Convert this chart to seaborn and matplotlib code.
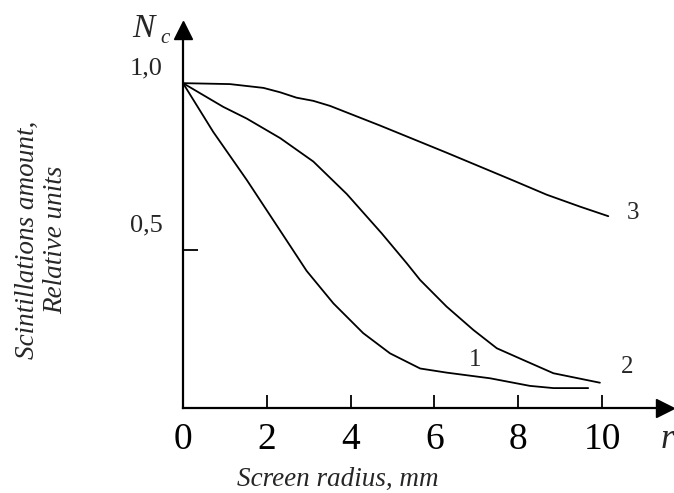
import matplotlib
matplotlib.use("Agg")
import matplotlib.pyplot as plt
import seaborn as sns
import pandas as pd

# ---- data ----
r1 = [0.0, 0.72, 1.52, 2.36, 2.95, 3.59, 4.30, 4.94, 5.66, 6.29, 7.33, 8.28, 8.84, 9.67]
n1 = [1.028, 0.874, 0.722, 0.553, 0.434, 0.331, 0.237, 0.173, 0.125, 0.112, 0.094, 0.070, 0.063, 0.063]

r2 = [0.0, 0.96, 1.52, 2.32, 3.11, 3.91, 4.74, 5.34, 5.66, 6.29, 6.93, 7.49, 8.12, 8.84, 9.95]
n2 = [1.028, 0.953, 0.916, 0.854, 0.780, 0.677, 0.553, 0.458, 0.405, 0.321, 0.247, 0.189, 0.152, 0.110, 0.080]

r3 = [0.0, 1.12, 1.92, 2.32, 2.71, 3.11, 3.51, 4.70, 6.29, 7.88, 8.68, 9.48, 10.15]
n3 = [1.028, 1.025, 1.013, 0.999, 0.982, 0.972, 0.956, 0.894, 0.808, 0.720, 0.675, 0.637, 0.607]

curve_labels = ["1", "2", "3"]
x_ticks = [0, 2, 4, 6, 8, 10]
x_ticklabels = ["0", "2", "4", "6", "8", "10"]
y_ticks = [0.5]
y_ticklabels = ["0,5", "1,0"]

sns.set_theme(style="white")
plt.rcParams["font.family"] = ["Liberation Serif", "DejaVu Serif"]

fig = plt.figure(figsize=(6.74, 4.93), dpi=100)
ax = fig.add_axes([183 / 674, 85 / 493, 482 / 674, 378 / 493])
ax.set_xlim(0, 482 / 41.9)
ax.set_ylim(0, 378 / 316)

for rr, nn in [(r1, n1), (r2, n2), (r3, n3)]:
    df = pd.DataFrame({"r": rr, "n": nn})
    sns.lineplot(data=df, x="r", y="n", sort=False, color="black", lw=1.3, ax=ax)

ax.set_xlabel("")
ax.set_ylabel("")
for s in ["top", "right"]:
    ax.spines[s].set_visible(False)
for s in ["left", "bottom"]:
    ax.spines[s].set_color("black")
    ax.spines[s].set_linewidth(1.6)

# arrows at the axis ends
ax.plot(1, 0, marker=">", color="black", markersize=13, transform=ax.transAxes, clip_on=False)
ax.plot(0, 1, marker="^", color="black", markersize=13, transform=ax.transAxes, clip_on=False)

ax.set_xticks(x_ticks)
ax.set_xticklabels(x_ticklabels, fontsize=27)
ax.tick_params(axis="x", bottom=True, direction="in", length=9.5, width=1.3, color="black",
               pad=10.5, labelcolor="black")
ax.set_yticks(y_ticks)
ax.set_yticklabels([])
ax.tick_params(axis="y", left=True, direction="in", length=11, width=1.3, color="black")

# y-axis values (placed above the tick as in the reference)
ax.text(-0.88, 0.579, y_ticklabels[0], fontsize=19, ha="center", va="center")
ax.text(-0.88, 1.073, y_ticklabels[1], fontsize=19, ha="center", va="center")

# axis symbols
ax.text(-0.95, 1.200, "N", fontsize=24, style="italic", ha="center", va="center")
ax.text(-0.44, 1.170, "c", fontsize=15, style="italic", ha="center", va="center")
ax.text(11.55, -0.101, "r", fontsize=25, style="italic", ha="center", va="center")

# curve labels
ax.text(6.97, 0.152, curve_labels[0], fontsize=18, ha="center", va="center")
ax.text(10.6, 0.130, curve_labels[1], fontsize=18, ha="center", va="center")
ax.text(10.74, 0.617, curve_labels[2], fontsize=18, ha="center", va="center")

# axis titles
fig.text(338 / 674, 1 - 479 / 493, "Screen radius, mm", fontsize=19.5, style="italic", ha="center", va="center")
fig.text(27 / 674, 1 - 240 / 493, "Scintillations amount,", fontsize=19.5, style="italic",
         ha="center", va="center", rotation=90)
fig.text(56 / 674, 1 - 240 / 493, "Relative units", fontsize=19.5, style="italic",
         ha="center", va="center", rotation=90)

fig.savefig("out.png", dpi=100)
